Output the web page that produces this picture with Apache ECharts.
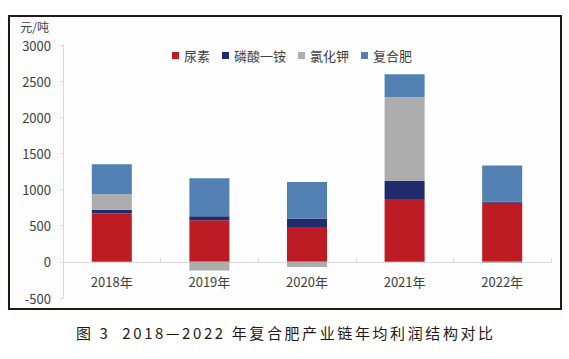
<!DOCTYPE html>
<html>
<head>
<meta charset="utf-8">
<script src="https://cdn.jsdelivr.net/npm/echarts@6/dist/echarts.min.js"></script>
<style>
html,body{margin:0;padding:0;background:#fff;}
#c{width:569px;height:359px;}
</style>
</head>
<body>
<div id="c"></div>
<script>
var years = ['2018年', '2019年', '2020年', '2021年', '2022年'];
var seriesNames = ['尿素', '磷酸一铵', '氯化钾', '复合肥'];
var urea = [670, 575, 483, 870, 817];
var dap = [50, 55, 115, 253, 16];
var kcl = [217, -120, -70, 1156, -12];
var compound = [415, 525, 507, 317, 501];
var yTicks = [-500, 0, 500, 1000, 1500, 2000, 2500, 3000];
var unitLabel = '元/吨';
var caption = '图 3  2018—2022 年复合肥产业链年均利润结构对比';

var colors = ['#be1c24', '#1f2b6c', '#adadad', '#5280b3'];
var dataSets = [urea, dap, kcl, compound];
var FONT = '"Noto Sans CJK SC", "Noto Sans", sans-serif';

var capRich = caption.split('').map(function (ch) { return '{c|' + ch + '}'; }).join('');

var yMin = yTicks[0], yMax = yTicks[yTicks.length - 1];
var gridTop = 45, gridBottom = 61, chartH = 359;
var plotH = chartH - gridTop - gridBottom;
// shift the category axis up so that it sits on the zero line
var zeroOffset = -plotH * (0 - yMin) / (yMax - yMin);

var chart = echarts.init(document.getElementById('c'), null, { renderer: 'svg' });
chart.setOption({
  animation: false,
  backgroundColor: '#ffffff',
  textStyle: { fontFamily: FONT },
  title: {
    text: capRich,
    left: 'center',
    top: 320,
    textStyle: {
      fontWeight: 'normal',
      rich: { c: { fontSize: 15, fontWeight: 'normal', color: '#231815', fontFamily: FONT, padding: [0, 1.3] } }
    }
  },
  graphic: [{
    type: 'rect',
    shape: { x: 9, y: 16, width: 552, height: 293 },
    style: { fill: '#fdfdfd', stroke: '#231815', lineWidth: 2 },
    z: -10
  }],
  legend: {
    data: seriesNames,
    left: 167,
    top: 44,
    itemWidth: 7,
    itemHeight: 7,
    itemGap: 12,
    icon: 'rect',
    textStyle: { fontSize: 13, color: '#404040', fontFamily: FONT }
  },
  grid: { left: 63, right: 18, top: gridTop, bottom: gridBottom, containLabel: false },
  xAxis: {
    type: 'category',
    data: years,
    offset: zeroOffset,
    axisLine: { onZero: false, lineStyle: { color: '#d9d9d9', width: 1 } },
    axisTick: { show: true, inside: true, length: 4, lineStyle: { color: '#d9d9d9' } },
    axisLabel: { fontSize: 13, color: '#404040', margin: 13, fontFamily: FONT }
  },
  yAxis: {
    type: 'value',
    min: yMin,
    max: yMax,
    interval: 500,
    name: unitLabel,
    nameLocation: 'end',
    nameGap: 13,
    nameTextStyle: { fontSize: 12, lineHeight: 12, color: '#404040', align: 'right', padding: [0, 14, 0, 0], fontFamily: FONT },
    axisLine: { show: true, lineStyle: { color: '#d9d9d9' } },
    axisTick: { show: true, length: 3, lineStyle: { color: '#d9d9d9' } },
    splitLine: { show: false },
    axisLabel: {
      fontSize: 13, lineHeight: 13, color: '#404040', margin: 12, fontFamily: FONT,
      formatter: function (v) { return String(v); }
    }
  },
  series: seriesNames.map(function (n, i) {
    return {
      name: n,
      type: 'bar',
      stack: 'total',
      barWidth: '41%',
      data: dataSets[i],
      itemStyle: { color: colors[i] }
    };
  })
});
</script>
</body>
</html>
